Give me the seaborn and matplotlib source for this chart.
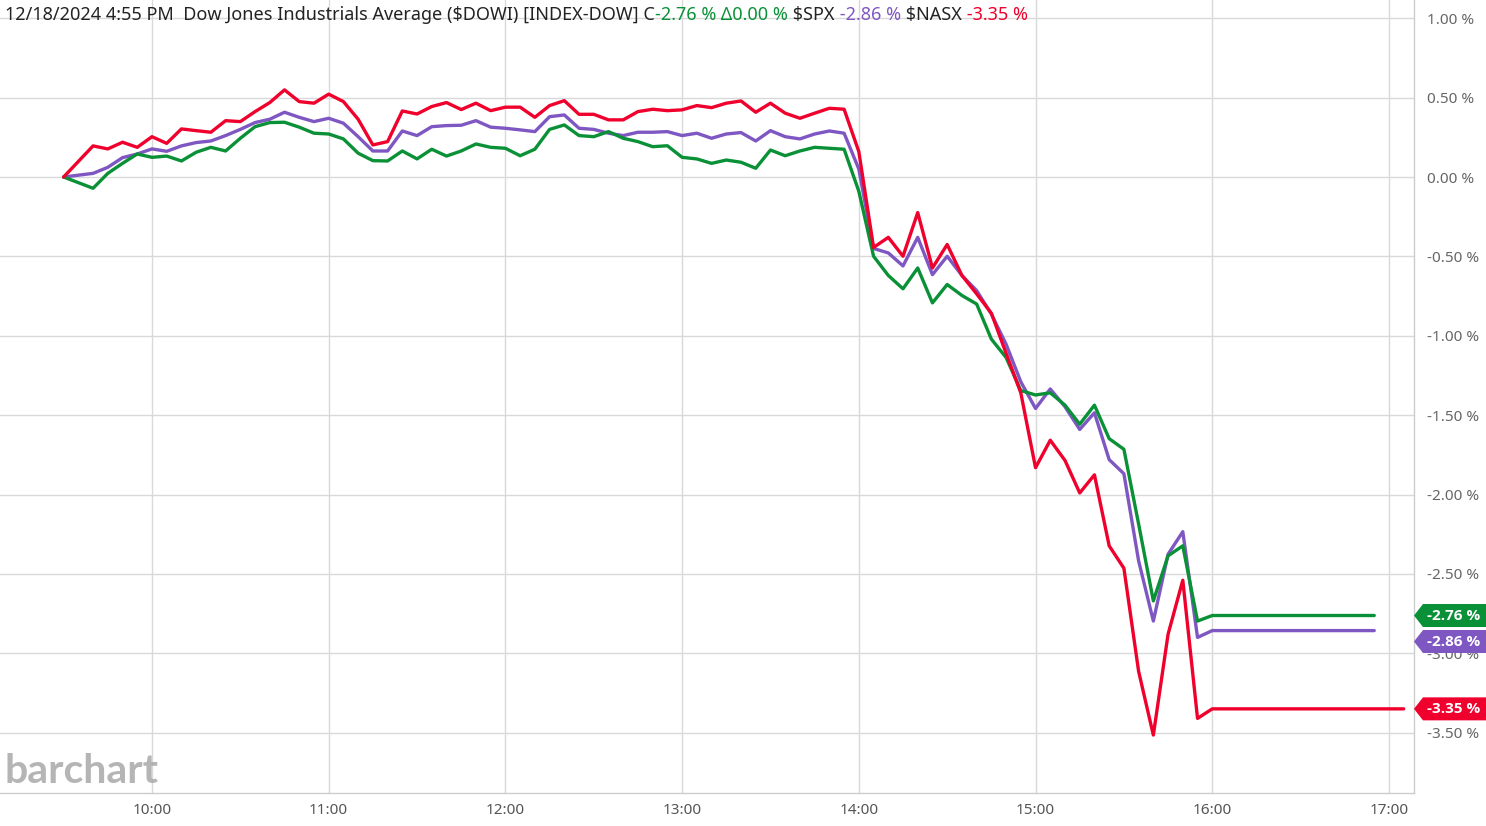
import matplotlib
matplotlib.use("Agg")
import matplotlib.pyplot as plt
from matplotlib.patches import Polygon
from matplotlib.transforms import IdentityTransform
import seaborn as sns
import pandas as pd
import numpy as np

# 5-minute bars, first bar 9:30 then 9:40 ... 16:00
times = ["09:30"] + list(pd.date_range("2024-12-18 09:40", "2024-12-18 16:00", freq="5min").strftime("%H:%M"))

dowi = [0.00, -0.071, 0.023, 0.086, 0.145,
        0.124, 0.132, 0.101, 0.156, 0.187, 0.164, 0.244, 0.317, 0.343, 0.345, 0.314, 0.276,
        0.271, 0.240, 0.150, 0.103, 0.101, 0.164, 0.114, 0.175, 0.132, 0.164, 0.208, 0.187,
        0.181, 0.134, 0.175, 0.300, 0.328, 0.261, 0.254, 0.286, 0.244, 0.223, 0.191, 0.197,
        0.124, 0.114, 0.086, 0.107, 0.093, 0.055, 0.170, 0.134, 0.164, 0.187, 0.181, 0.175,
        -0.090, -0.499, -0.620, -0.704, -0.573, -0.793, -0.677, -0.746, -0.800, -1.021, -1.137, -1.345,
        -1.373, -1.359, -1.437, -1.557, -1.437, -1.648, -1.715, -2.186, -2.670, -2.386, -2.323, -2.797,
        -2.762]
spx = [0.00, 0.023, 0.061, 0.122, 0.145,
       0.177, 0.162, 0.196, 0.217, 0.227, 0.261, 0.300, 0.343, 0.364, 0.408, 0.376, 0.349,
       0.370, 0.339, 0.254, 0.164, 0.164, 0.290, 0.261, 0.317, 0.324, 0.326, 0.355, 0.314,
       0.307, 0.297, 0.286, 0.380, 0.391, 0.307, 0.300, 0.276, 0.261, 0.282, 0.282, 0.286,
       0.261, 0.276, 0.244, 0.271, 0.280, 0.227, 0.292, 0.254, 0.240, 0.271, 0.290, 0.276,
       0.050, -0.450, -0.478, -0.560, -0.380, -0.615, -0.499, -0.620, -0.715, -0.863, -1.053, -1.290,
       -1.458, -1.335, -1.447, -1.590, -1.485, -1.780, -1.869, -2.418, -2.797, -2.376, -2.234, -2.900,
       -2.857]
nasx = [0.00, 0.196, 0.177, 0.219, 0.187,
        0.254, 0.212, 0.303, 0.292, 0.282, 0.355, 0.349, 0.412, 0.469, 0.549, 0.475, 0.465,
        0.522, 0.475, 0.364, 0.202, 0.223, 0.416, 0.397, 0.444, 0.469, 0.425, 0.465, 0.418,
        0.440, 0.440, 0.376, 0.450, 0.481, 0.395, 0.395, 0.360, 0.360, 0.412, 0.427, 0.418,
        0.423, 0.450, 0.437, 0.465, 0.479, 0.408, 0.465, 0.402, 0.370, 0.402, 0.433, 0.427,
        0.160, -0.444, -0.380, -0.499, -0.224, -0.573, -0.425, -0.620, -0.736, -0.858, -1.110, -1.360,
        -1.831, -1.658, -1.785, -1.990, -1.876, -2.323, -2.464, -3.114, -3.515, -2.880, -2.540, -3.410,
        -3.350]

series = {"$DOWI": dowi, "$SPX": spx, "$NASX": nasx}
# the last value is carried flat after the close
flat_until = {"$DOWI": "16:55", "$SPX": "16:55", "$NASX": "17:05"}
colors = {"$DOWI": "#0a9137", "$SPX": "#7e57c2", "$NASX": "#f0002c"}
draw_order = ["$SPX", "$DOWI", "$NASX"]

hour_ticks = ["10:00", "11:00", "12:00", "13:00", "14:00", "15:00", "16:00", "17:00"]
pct_ticks = [1.0, 0.5, 0.0, -0.5, -1.0, -1.5, -2.0, -2.5, -3.0, -3.5]


def to_min(t):
    h, m = t.split(":")
    return int(h) * 60 + int(m)


rows = []
for sym, vals in series.items():
    for t, v in zip(times + [flat_until[sym]], vals + [vals[-1]]):
        rows.append({"symbol": sym, "minute": to_min(t), "pct": v})
df = pd.DataFrame(rows)

sns.set_style("white")
plt.rcParams["font.family"] = ["Noto Sans", "DejaVu Sans"]

W, H = 1486, 826
fig = plt.figure(figsize=(W / 100, H / 100), dpi=100)
ax = fig.add_axes([0, 33 / H, 1414 / W, 793 / H])

sns.lineplot(data=df, x="minute", y="pct", hue="symbol", hue_order=draw_order,
             palette=colors, linewidth=2.4, legend=False, estimator=None, ax=ax)

ax.set_xlim(548.4, 1028.5)
ax.set_ylim(-3.88, 1.115)
ax.set_xticks([to_min(t) for t in hour_ticks])
ax.set_xticklabels(hour_ticks)
ax.set_yticks(pct_ticks)
ax.set_yticklabels([f"{v:.2f} %" for v in pct_ticks])
ax.yaxis.tick_right()
ax.tick_params(axis="x", length=0, pad=7.5, labelsize=11, labelcolor="#555555")
ax.tick_params(axis="y", length=0, pad=9.5, labelsize=11, labelcolor="#666666")
ax.set_xlabel("")
ax.set_ylabel("")
ax.grid(True, color="#d9d9d9", linewidth=1)
ax.set_axisbelow(True)
for side in ["left", "top"]:
    ax.spines[side].set_visible(False)
for side in ["right", "bottom"]:
    ax.spines[side].set_color("#cccccc")
    ax.spines[side].set_linewidth(1)

ax.text(0.003, 0.027, "barchart", transform=ax.transAxes, fontsize=29.5, fontweight="bold",
        family=["Lato", "DejaVu Sans"], color="#a8a8a8", alpha=0.85, va="center", ha="left")

# last value tags on the right
x0 = ax.transAxes.transform((1, 0))[0]
prev = None
for sym in sorted(series, key=lambda s: -series[s][-1]):
    val = series[sym][-1]
    yp = ax.transData.transform((0, val))[1]
    if prev is not None and prev - yp < 26:
        yp = prev - 26
    prev = yp
    hh = 11.5
    verts = [(x0, yp), (x0 + 9, yp + hh), (W, yp + hh), (W, yp - hh), (x0 + 9, yp - hh)]
    fig.add_artist(Polygon(verts, closed=True, facecolor=colors[sym], edgecolor="none",
                           transform=IdentityTransform()))
    fig.text(x0 + 13, yp, f"{val:.2f} %", transform=IdentityTransform(), color="white",
             fontsize=11, fontweight="bold", family=["Open Sans", "DejaVu Sans"],
             va="center", ha="left")

# header with coloured pieces
pieces = [("12/18/2024 4:55 PM  Dow Jones Industrials Average ($DOWI) [INDEX-DOW] C", "#222222"),
          ("-2.76 %", colors["$DOWI"]),
          (" \u03940.00 %", colors["$DOWI"]),
          (" $SPX", "#222222"),
          (" -2.86 %", colors["$SPX"]),
          (" $NASX", "#222222"),
          (" -3.35 %", colors["$NASX"])]
renderer = fig.canvas.get_renderer()
xp, yb = 5, H - 20
for txt, col in pieces:
    t = fig.text(xp, yb, txt, transform=IdentityTransform(), color=col, fontsize=13,
                 va="baseline", ha="left")
    xp += t.get_window_extent(renderer).width

fig.savefig("out.png", dpi=100)
